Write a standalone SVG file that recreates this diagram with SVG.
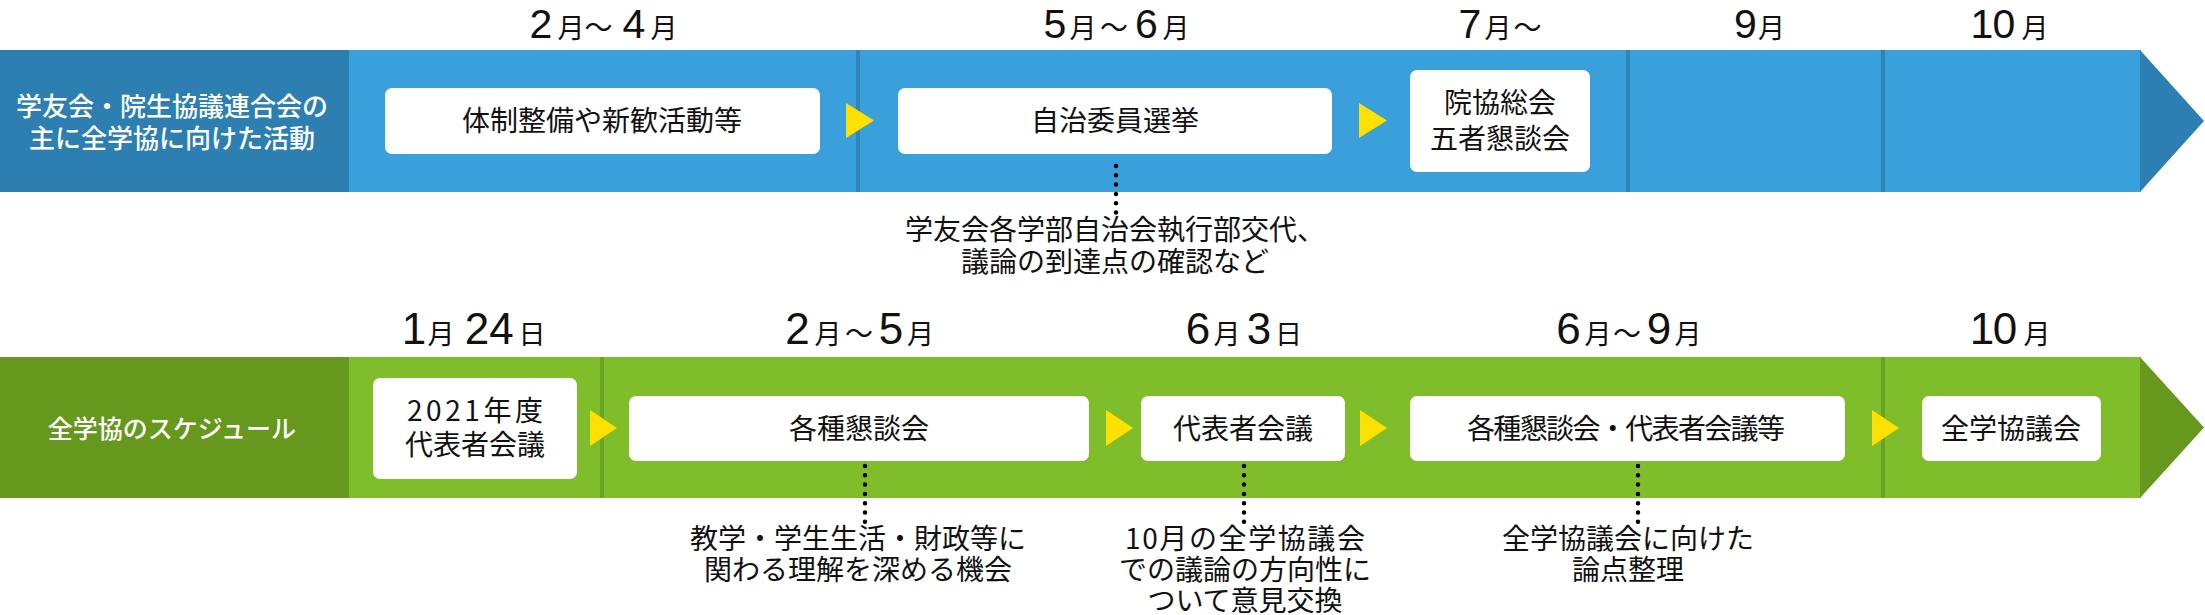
<svg xmlns="http://www.w3.org/2000/svg" width="2205" height="615" viewBox="0 0 2205 615">
<style>
.bg{fill:#ffffff}
.bandB{fill:#3aa0db}
.darkB{fill:#2c7fb0}
.divB{stroke:#2f84b9;stroke-width:4}
.bandG{fill:#80bd2a}
.darkG{fill:#65981c}
.divG{stroke:#6aa223;stroke-width:4}
.box{fill:#ffffff}
.yel{fill:#ffe100}
.dots{stroke:#000;stroke-width:4.5;stroke-linecap:round;stroke-dasharray:0 9.3;fill:none}
.lab{font-family:"Noto Sans CJK JP",sans-serif;font-size:26px;fill:#ffffff;font-weight:500;text-anchor:middle}
.t{font-family:"Noto Sans CJK JP",sans-serif;font-size:28px;fill:#111;text-anchor:middle}
.m{font-family:"Liberation Sans",sans-serif;font-size:41px;fill:#111;text-anchor:middle}
.m2{font-family:"Liberation Sans",sans-serif;font-size:44px;fill:#111;text-anchor:middle}
.k{font-family:"Noto Sans CJK JP",sans-serif;font-size:27px}
.w{font-family:"Noto Sans CJK JP",sans-serif;font-size:28px}
</style>
<rect class="bg" x="0" y="0" width="2205" height="615"/>

<g id="band-top">
  <rect class="bandB" x="349" y="50" width="1792" height="142"/>
  <polygon class="darkB" points="2140,50 2204,121 2140,192"/>
  <rect class="darkB" x="0" y="50" width="349" height="142"/>
  <line class="divB" x1="858" y1="50" x2="858" y2="192"/>
  <line class="divB" x1="1628" y1="50" x2="1628" y2="192"/>
  <line class="divB" x1="1883" y1="50" x2="1883" y2="192"/>
  <text class="lab" x="172" y="116">学友会・院生協議連合会の</text>
  <text class="lab" x="172" y="148">主に全学協に向けた活動</text>
</g>

<g id="band-bottom">
  <rect class="bandG" x="349" y="357" width="1792" height="141"/>
  <polygon class="darkG" points="2140,357 2204,427.5 2140,498"/>
  <rect class="darkG" x="0" y="357" width="349" height="141"/>
  <line class="divG" x1="602" y1="357" x2="602" y2="498"/>
  <line class="divG" x1="1883" y1="357" x2="1883" y2="498"/>
  <text class="lab" x="172" y="438" style="font-size:25px">全学協のスケジュール</text>
</g>

<g id="months-top">
  <text class="m" y="37.5"><tspan x="541">2</tspan><tspan class="k" x="571">月</tspan><tspan class="w" x="598.5">～</tspan><tspan x="634">4</tspan><tspan class="k" x="664">月</tspan></text>
  <text class="m" y="37.5"><tspan x="1055">5</tspan><tspan class="k" x="1083">月</tspan><tspan class="w" x="1114">～</tspan><tspan x="1146.5">6</tspan><tspan class="k" x="1176">月</tspan></text>
  <text class="m" y="37.5"><tspan x="1470">7</tspan><tspan class="k" x="1498">月</tspan><tspan class="w" x="1527.5">～</tspan></text>
  <text class="m" y="37.5"><tspan x="1745.5">9</tspan><tspan class="k" x="1771.5">月</tspan></text>
  <text class="m" y="37.5"><tspan x="1982">1</tspan><tspan x="2004">0</tspan><tspan class="k" x="2035">月</tspan></text>
</g>

<g id="months-bottom">
  <text class="m2" y="344"><tspan x="414">1</tspan><tspan class="k" x="441">月</tspan><tspan x="477">2</tspan><tspan x="501.5">4</tspan><tspan class="k" x="532">日</tspan></text>
  <text class="m2" y="344"><tspan x="797.5">2</tspan><tspan class="k" x="828">月</tspan><tspan class="w" x="859">～</tspan><tspan x="891">5</tspan><tspan class="k" x="920.5">月</tspan></text>
  <text class="m2" y="344"><tspan x="1198">6</tspan><tspan class="k" x="1227">月</tspan><tspan x="1259">3</tspan><tspan class="k" x="1288.5">日</tspan></text>
  <text class="m2" y="344"><tspan x="1568.5">6</tspan><tspan class="k" x="1598">月</tspan><tspan class="w" x="1627">～</tspan><tspan x="1659">9</tspan><tspan class="k" x="1688">月</tspan></text>
  <text class="m2" y="344"><tspan x="1982">1</tspan><tspan x="2005">0</tspan><tspan class="k" x="2037">月</tspan></text>
</g>

<g id="node-taisei">
  <rect class="box" x="385" y="88" width="435" height="66" rx="7"/>
  <text class="t" x="602" y="131">体制整備や新歓活動等</text>
</g>
<g id="node-jichi">
  <rect class="box" x="898" y="88" width="434" height="66" rx="7"/>
  <text class="t" x="1115" y="131">自治委員選挙</text>
</g>
<g id="node-inkyo">
  <rect class="box" x="1410" y="70" width="180" height="102" rx="7"/>
  <text class="t" x="1500" y="113">院協総会</text>
  <text class="t" x="1500" y="149">五者懇談会</text>
</g>
<g id="note-top">
  <text class="t" x="1115" y="240">学友会各学部自治会執行部交代、</text>
  <text class="t" x="1115" y="272">議論の到達点の確認など</text>
</g>

<g id="node-daihyo2021">
  <rect class="box" x="373" y="378" width="204" height="101" rx="7"/>
  <text class="t" x="475" y="421" textLength="136">2021年度</text>
  <text class="t" x="475" y="455">代表者会議</text>
</g>
<g id="node-kondan">
  <rect class="box" x="629" y="396" width="460" height="65" rx="7"/>
  <text class="t" x="859" y="439">各種懇談会</text>
</g>
<g id="node-daihyo">
  <rect class="box" x="1141" y="396" width="204" height="65" rx="7"/>
  <text class="t" x="1243" y="439">代表者会議</text>
</g>
<g id="node-kondan-daihyo">
  <rect class="box" x="1410" y="396" width="435" height="65" rx="7"/>
  <text class="t" x="1626" y="439" textLength="318">各種懇談会・代表者会議等</text>
</g>
<g id="node-zengakkyo">
  <rect class="box" x="1922" y="396" width="179" height="65" rx="7"/>
  <text class="t" x="2011" y="439">全学協議会</text>
</g>
<g id="note-kondan">
  <text class="t" x="858" y="549">教学・学生生活・財政等に</text>
  <text class="t" x="858" y="580">関わる理解を深める機会</text>
</g>
<g id="note-daihyo">
  <text class="t" x="1245" y="549" textLength="240">10月の全学協議会</text>
  <text class="t" x="1245" y="580">での議論の方向性に</text>
  <text class="t" x="1245" y="611">ついて意見交換</text>
</g>
<g id="note-kondan-daihyo">
  <text class="t" x="1628" y="549">全学協議会に向けた</text>
  <text class="t" x="1628" y="580">論点整理</text>
</g>

<g id="connectors">
  <polygon class="yel" points="846,103 874,120.5 846,138"/>
  <polygon class="yel" points="1359,103 1387,120.5 1359,138"/>
  <polygon class="yel" points="590,410 617,428 590,446"/>
  <polygon class="yel" points="1106,410 1133,428 1106,446"/>
  <polygon class="yel" points="1360,410 1387,428 1360,446"/>
  <polygon class="yel" points="1872,410 1899,428 1872,446"/>
  <line class="dots" x1="1116" y1="166" x2="1116" y2="214"/>
  <line class="dots" x1="865" y1="466" x2="865" y2="523"/>
  <line class="dots" x1="1244" y1="466" x2="1244" y2="523"/>
  <line class="dots" x1="1638" y1="466" x2="1638" y2="523"/>
</g>
</svg>
